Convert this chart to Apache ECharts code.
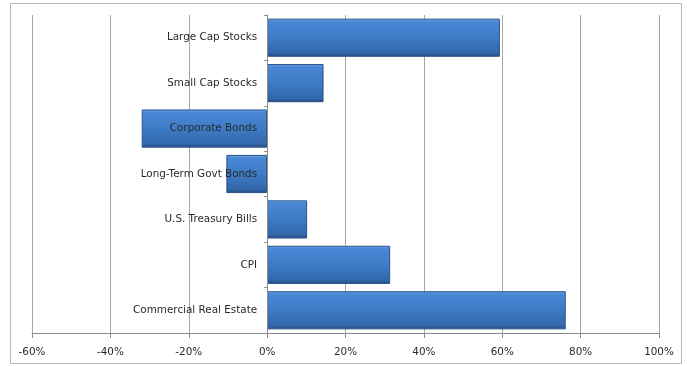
<!DOCTYPE html>
<html>
<head>
<meta charset="utf-8">
<script src="https://cdn.jsdelivr.net/npm/echarts@6/dist/echarts.min.js"></script>
<style>html,body{margin:0;padding:0;background:#fff}#c{width:687px;height:366px}</style>
</head>
<body>
<div id="c"></div>
<script>
const categories = ["Large Cap Stocks","Small Cap Stocks","Corporate Bonds","Long-Term Govt Bonds","U.S. Treasury Bills","CPI","Commercial Real Estate"];
const values = [59.4, 14.4, -32.0, -10.4, 10.2, 31.4, 76.2];
const xTicks = [-60, -40, -20, 0, 20, 40, 60, 80, 100];

const chart = echarts.init(document.getElementById('c'));
const gridLeft = 32, gridRight = 28;
const gridW = 687 - gridLeft - gridRight;
const zeroOffset = gridW * (0 - xTicks[0]) / (xTicks[xTicks.length-1] - xTicks[0]);
chart.setOption({
  animation: false,
  backgroundColor: '#fff',
  graphic: [{
    type: 'rect', shape: {x: 10.5, y: 3.5, width: 671, height: 360},
    style: {fill: 'none', stroke: '#b8b8b8', lineWidth: 1}, z: -1
  }],
  grid: {left: gridLeft, right: gridRight, top: 15, bottom: 33, containLabel: false, outerBoundsMode: 'none'},
  xAxis: {
    type: 'value', min: xTicks[0], max: xTicks[xTicks.length-1], interval: 20,
    axisLabel: {formatter: v => v + '%', fontFamily: 'DejaVu Sans', fontSize: 10.4, color: '#2a2a2a', margin: 14},
    axisLine: {show: true, onZero: false, lineStyle: {color: '#8c8c8c'}},
    axisTick: {show: true, length: 5, lineStyle: {color: '#8c8c8c'}},
    splitLine: {show: true, lineStyle: {color: '#a6a6a6'}}
  },
  yAxis: {
    type: 'category', data: categories, inverse: true, z: 5,
    position: 'left', offset: -zeroOffset,
    axisLine: {show: true, onZero: false, lineStyle: {color: '#8c8c8c'}},
    axisTick: {show: true, length: 3, lineStyle: {color: '#8c8c8c'}},
    axisLabel: {fontFamily: 'DejaVu Sans', fontSize: 10.4, color: '#2a2a2a', margin: 10},
    splitLine: {show: false}
  },
  series: [{
    type: 'bar', data: values, barCategoryGap: '16%',
    itemStyle: {
      color: new echarts.graphic.LinearGradient(0, 0, 0, 1, [
        {offset: 0, color: '#6aa6ea'},
        {offset: 0.08, color: '#4a88d6'},
        {offset: 0.5, color: '#3e7bc6'},
        {offset: 0.9, color: '#3367aa'},
        {offset: 1, color: '#234b80'}
      ]),
      borderColor: '#2a5288', borderWidth: 1
    }
  }]
});
</script>
</body>
</html>
